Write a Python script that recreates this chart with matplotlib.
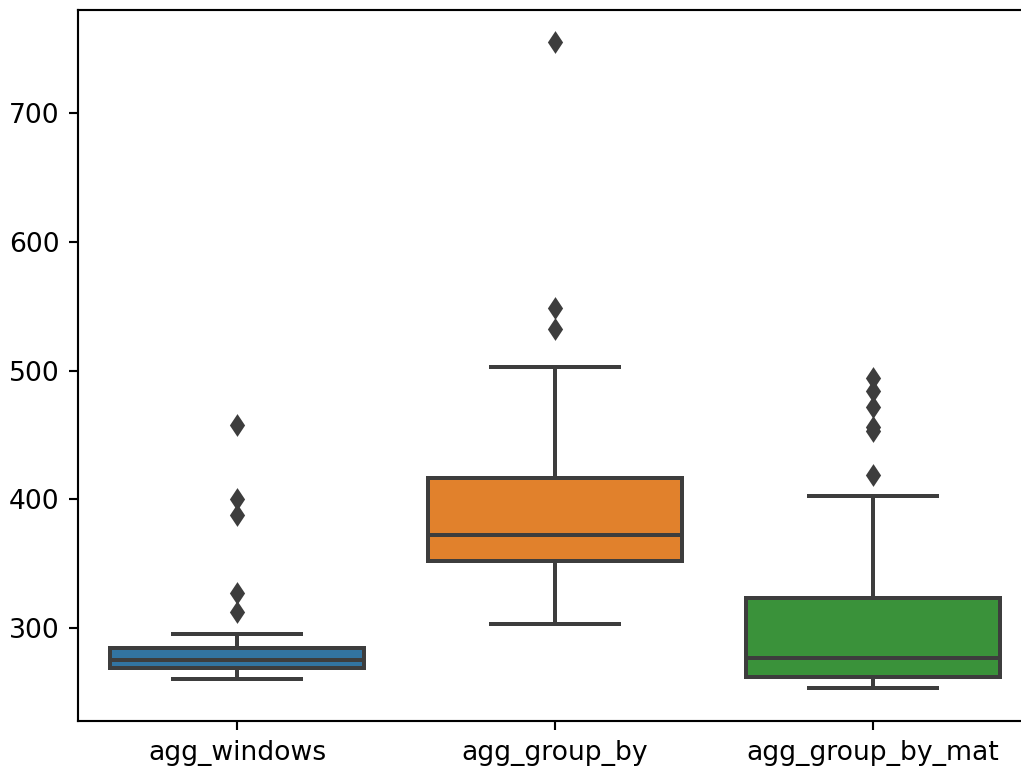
import matplotlib
matplotlib.use("Agg")
import matplotlib.pyplot as plt

categories = ["agg_windows", "agg_group_by", "agg_group_by_mat"]
whisker_low = [260.6, 303.4, 253.7]
q1 = [269.2, 352.3, 262.2]
median = [275.7, 372.7, 277.2]
q3 = [284.7, 417.0, 323.8]
whisker_high = [295.9, 502.5, 402.5]
fliers = [
    [458.0, 400.3, 387.6, 327.0, 312.6],
    [755.4, 548.3, 532.0],
    [494.0, 484.0, 472.0, 456.0, 453.0, 419.0],
]
yticks = [300, 400, 500, 600, 700]

box_colors = ["#3274a1", "#e1812c", "#3a923a"]
gray = "#3d3d3d"

stats = []
for i, name in enumerate(categories):
    stats.append({
        "label": name,
        "whislo": whisker_low[i],
        "q1": q1[i],
        "med": median[i],
        "q3": q3[i],
        "whishi": whisker_high[i],
        "fliers": fliers[i],
    })

W, H, DPI = 1021, 772, 192
fig = plt.figure(figsize=(W / DPI, H / DPI), dpi=DPI)
ax = fig.add_axes([78 / W, (H - 721) / H, 954 / W, 711 / H])

lw = 1.5
bp = ax.bxp(
    stats,
    positions=range(len(categories)),
    widths=0.8,
    patch_artist=True,
    boxprops=dict(edgecolor=gray, linewidth=lw),
    whiskerprops=dict(color=gray, linewidth=lw),
    capprops=dict(color=gray, linewidth=lw),
    medianprops=dict(color=gray, linewidth=lw),
    flierprops=dict(marker="d", markerfacecolor=gray, markeredgecolor=gray,
                    markersize=5, linestyle="none"),
)
for patch, c in zip(bp["boxes"], box_colors):
    patch.set_facecolor(c)

ax.set_xlim(-0.5, len(categories) - 0.5)
ax.set_ylim(228.0, 780.0)
ax.set_xticks(range(len(categories)))
ax.set_xticklabels(categories, fontsize=10)
ax.set_yticks(yticks)
ax.set_yticklabels([str(t) for t in yticks], fontsize=10)

fig.savefig("out.png", dpi=DPI)
